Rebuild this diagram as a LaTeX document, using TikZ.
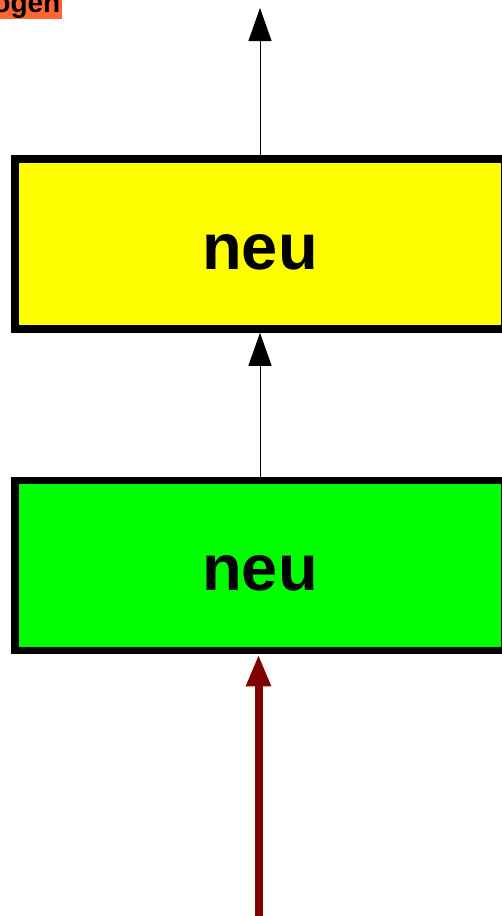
\documentclass[tikz,border=0pt]{standalone}
\usepackage{fontspec}
\setmainfont{Liberation Sans}
\usetikzlibrary{arrows.meta}
\definecolor{boxyellow}{HTML}{FFFF00}
\definecolor{boxgreen}{HTML}{00FF00}
\definecolor{darkred}{HTML}{800000}
\definecolor{tagorange}{HTML}{FF6633}
\tikzset{
  bigbox/.style={draw=black, line width=7.5pt, rectangle, minimum width=490pt, minimum height=170pt,
    font=\fontsize{65}{65}\selectfont\bfseries, text height=50pt, text depth=0pt, inner sep=0pt},
  thinarrow/.style={line width=1pt, -{Triangle[length=33pt,width=23pt]}},
  redarrow/.style={draw=darkred, line width=8pt, -{Triangle[length=32pt,width=23pt]}},
  tag/.style={fill=tagorange, font=\fontsize{28}{28}\selectfont\bfseries, inner sep=1.5pt}
}
\begin{document}
\begin{tikzpicture}[x=1pt,y=-1pt]
\useasboundingbox (0,0) rectangle (502,916);
\clip (0,0) rectangle (502,916);
\node[tag, anchor=base east] (lbl) at (62,12) {ogen};
\node[bigbox, fill=boxyellow] (y) at (260,244) {neu};
\node[bigbox, fill=boxgreen] (g) at (260,565.5) {neu};
\coordinate (top) at (260,8);
\coordinate (r) at (258.5,930);
\draw[thinarrow] (y.north) -- (top);
\draw[thinarrow] (g.north) -- (y.south);
\draw[redarrow] (r) -- (r |- g.south);
\end{tikzpicture}
\end{document}
